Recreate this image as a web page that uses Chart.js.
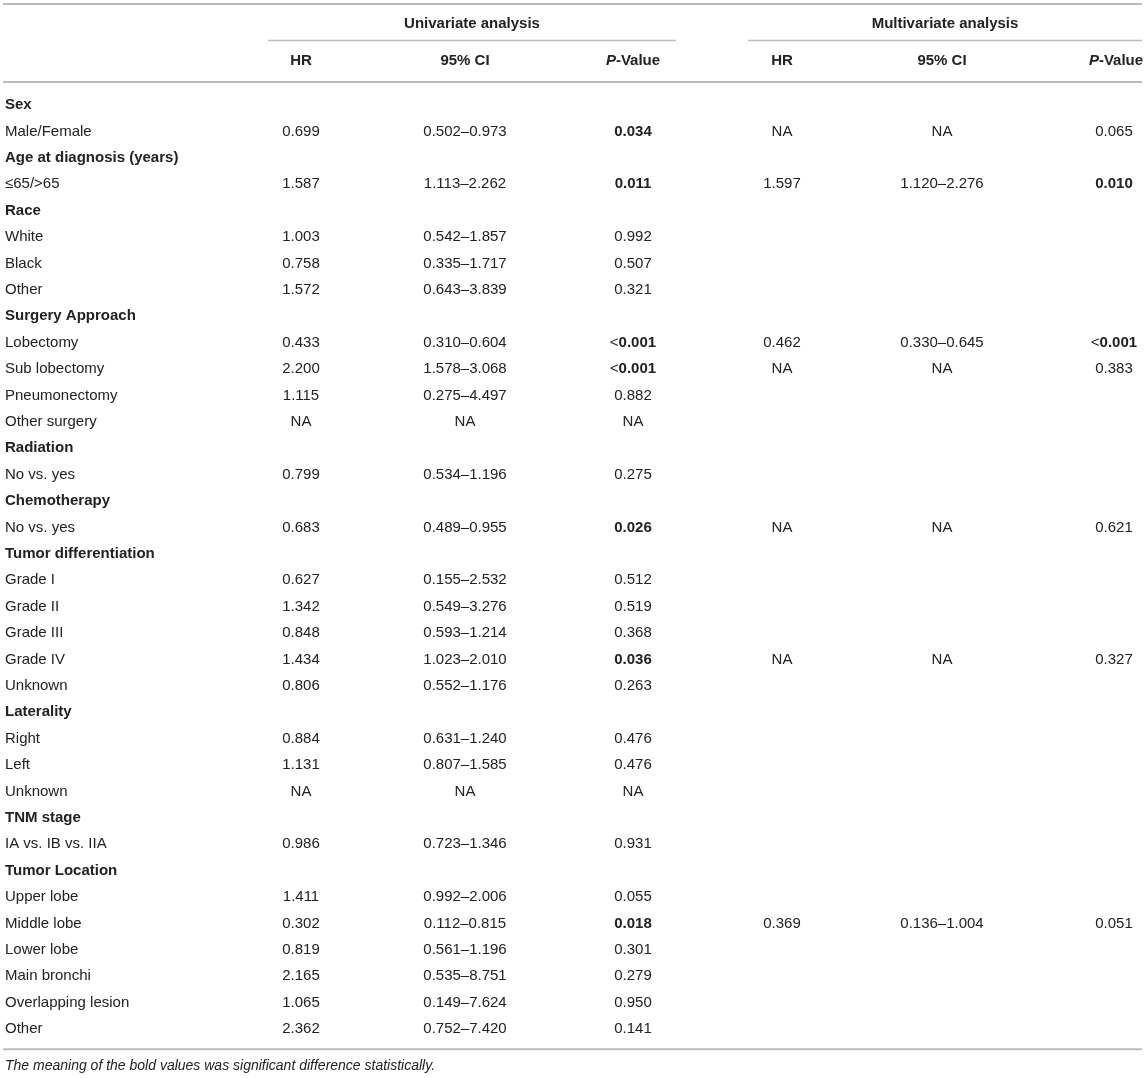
<!DOCTYPE html>
<html>
<head>
<meta charset="utf-8">
<script src="https://cdn.jsdelivr.net/npm/chart.js@4.4.1/dist/chart.umd.min.js"></script>
<style>
  html, body { margin: 0; padding: 0; background: #fff; }
  canvas { display: block; }
</style>
</head>
<body>
<canvas id="myChart" width="1146" height="1078"></canvas>
<script>
// table content
const rowLabels = ['Sex', 'Male/Female', 'Age at diagnosis (years)', '\u226465/>65', 'Race', 'White', 'Black', 'Other',
  'Surgery Approach', 'Lobectomy', 'Sub lobectomy', 'Pneumonectomy', 'Other surgery', 'Radiation', 'No vs. yes',
  'Chemotherapy', 'No vs. yes', 'Tumor differentiation', 'Grade I', 'Grade II', 'Grade III', 'Grade IV', 'Unknown',
  'Laterality', 'Right', 'Left', 'Unknown', 'TNM stage', 'IA vs. IB vs. IIA', 'Tumor Location', 'Upper lobe',
  'Middle lobe', 'Lower lobe', 'Main bronchi', 'Overlapping lesion', 'Other'];
const groupRows = [0, 2, 4, 8, 13, 15, 17, 23, 27, 29];

const uniHR = ['', '0.699', '', '1.587', '', '1.003', '0.758', '1.572', '', '0.433', '2.200', '1.115', 'NA', '',
  '0.799', '', '0.683', '', '0.627', '1.342', '0.848', '1.434', '0.806', '', '0.884', '1.131', 'NA', '', '0.986', '',
  '1.411', '0.302', '0.819', '2.165', '1.065', '2.362'];
const uniCI = ['', '0.502\u20130.973', '', '1.113\u20132.262', '', '0.542\u20131.857', '0.335\u20131.717', '0.643\u20133.839', '',
  '0.310\u20130.604', '1.578\u20133.068', '0.275\u20134.497', 'NA', '', '0.534\u20131.196', '', '0.489\u20130.955', '',
  '0.155\u20132.532', '0.549\u20133.276', '0.593\u20131.214', '1.023\u20132.010', '0.552\u20131.176', '', '0.631\u20131.240',
  '0.807\u20131.585', 'NA', '', '0.723\u20131.346', '', '0.992\u20132.006', '0.112\u20130.815', '0.561\u20131.196',
  '0.535\u20138.751', '0.149\u20137.624', '0.752\u20137.420'];
const uniP = ['', '0.034', '', '0.011', '', '0.992', '0.507', '0.321', '', '<0.001', '<0.001', '0.882', 'NA', '',
  '0.275', '', '0.026', '', '0.512', '0.519', '0.368', '0.036', '0.263', '', '0.476', '0.476', 'NA', '', '0.931', '',
  '0.055', '0.018', '0.301', '0.279', '0.950', '0.141'];
const uniSig = [1, 3, 9, 10, 16, 21, 31];

const multiHR = ['', 'NA', '', '1.597', '', '', '', '', '', '0.462', 'NA', '', '', '', '', '', 'NA', '', '', '', '',
  'NA', '', '', '', '', '', '', '', '', '', '0.369', '', '', '', ''];
const multiCI = ['', 'NA', '', '1.120\u20132.276', '', '', '', '', '', '0.330\u20130.645', 'NA', '', '', '', '', '', 'NA',
  '', '', '', '', 'NA', '', '', '', '', '', '', '', '', '', '0.136\u20131.004', '', '', '', ''];
const multiP = ['', '0.065', '', '0.010', '', '', '', '', '', '<0.001', '0.383', '', '', '', '', '', '0.621', '', '',
  '', '', '0.327', '', '', '', '', '', '', '', '', '', '0.051', '', '', '', ''];
const multiSig = [3, 9];

const groupTitles = ['Univariate analysis', 'Multivariate analysis'];
const colTitles = ['HR', '95% CI', 'P-Value'];
const footnote = 'The meaning of the bold values was significant difference statistically.';

// layout
const FONT = '"Liberation Sans", Arial, Helvetica, sans-serif';
const TXT = '#222';
const RULE = '#bcbcbc';
const colX = [5, 301, 465, 633, 782, 942, 1114];
const titleX = [472, 945];
const titleRow = -3.07, headRow = -1.67, footRow = 36.4;

const columns = [
  { texts: rowLabels, sig: [] },
  { texts: uniHR, sig: [] },
  { texts: uniCI, sig: [] },
  { texts: uniP, sig: uniSig },
  { texts: multiHR, sig: [] },
  { texts: multiCI, sig: [] },
  { texts: multiP, sig: multiSig }
];

const cellSets = columns.map((c, ci) => ({
  type: 'scatter',
  label: 'col' + ci,
  data: c.texts.map((t, i) => ({ x: colX[ci], y: i })),
  pointRadius: 0,
  cellCol: ci
}));

function rule(x1, x2, y, w) {
  return {
    type: 'line',
    data: [{ x: x1, y: y }, { x: x2, y: y }],
    borderColor: RULE,
    borderWidth: w,
    pointRadius: 0,
    fill: false
  };
}

const rules = [
  rule(3, 1142, -3.83, 2),
  rule(268, 676, -2.44, 1.5),
  rule(748, 1142, -2.44, 1.5),
  rule(3, 1142, -0.87, 2),
  rule(3, 1142, 35.77, 2)
];

function font(w, s, it) {
  return (it ? 'italic ' : '') + w + ' ' + s + 'px ' + FONT;
}

// draws a list of [text, font] pieces, centred or left-aligned at x
function drawPieces(ctx, pieces, x, y, align) {
  let total = 0;
  pieces.forEach(p => { ctx.font = p[1]; total += ctx.measureText(p[0]).width; });
  let cx = align === 'center' ? x - total / 2 : x;
  ctx.textAlign = 'left';
  pieces.forEach(p => {
    ctx.font = p[1];
    ctx.fillText(p[0], cx, y);
    cx += ctx.measureText(p[0]).width;
  });
}

const tablePlugin = {
  id: 'tableText',
  afterDatasetsDraw(chart) {
    const ctx = chart.ctx;
    const xs = chart.scales.x, ys = chart.scales.y;
    ctx.save();
    ctx.fillStyle = TXT;
    ctx.textBaseline = 'middle';

    chart.data.datasets.forEach((ds, di) => {
      if (ds.cellCol === undefined) return;
      const col = columns[ds.cellCol];
      const meta = chart.getDatasetMeta(di);
      meta.data.forEach((pt, i) => {
        const t = col.texts[i];
        if (!t) return;
        if (ds.cellCol === 0) {
          const b = groupRows.includes(i);
          drawPieces(ctx, [[t, font(b ? 'bold' : 'normal', 15)]], pt.x, pt.y, 'left');
        } else if (col.sig.includes(i)) {
          if (t[0] === '<') {
            drawPieces(ctx, [['<', font('normal', 15)], [t.slice(1), font('bold', 15)]], pt.x, pt.y, 'center');
          } else {
            drawPieces(ctx, [[t, font('bold', 15)]], pt.x, pt.y, 'center');
          }
        } else {
          drawPieces(ctx, [[t, font('normal', 15)]], pt.x, pt.y, 'center');
        }
      });
    });

    // header rows
    groupTitles.forEach((g, k) => {
      drawPieces(ctx, [[g, font('bold', 15)]], xs.getPixelForValue(titleX[k]), ys.getPixelForValue(titleRow), 'center');
    });
    for (let k = 0; k < 6; k++) {
      const name = colTitles[k % 3];
      const px = xs.getPixelForValue(colX[k + 1] + (k === 5 ? 2 : 0));
      const py = ys.getPixelForValue(headRow);
      if (name.startsWith('P-')) {
        drawPieces(ctx, [['P', font('bold', 15, true)], [name.slice(1), font('bold', 15)]], px, py, 'center');
      } else {
        drawPieces(ctx, [[name, font('bold', 15)]], px, py, 'center');
      }
    }

    drawPieces(ctx, [[footnote, font('normal', 14, true)]], xs.getPixelForValue(colX[0]), ys.getPixelForValue(footRow), 'left');
    ctx.restore();
  }
};

const ctx = document.getElementById('myChart');
new Chart(ctx, {
  type: 'scatter',
  data: { datasets: rules.concat(cellSets) },
  options: {
    responsive: false,
    animation: false,
    devicePixelRatio: 1,
    layout: { padding: 0 },
    plugins: { legend: { display: false }, tooltip: { enabled: false } },
    scales: {
      x: { type: 'linear', display: false, min: 0, max: 1146 },
      y: { type: 'linear', display: false, reverse: true, min: -3.977, max: 36.856 }
    }
  },
  plugins: [tablePlugin]
});
</script>
</body>
</html>
